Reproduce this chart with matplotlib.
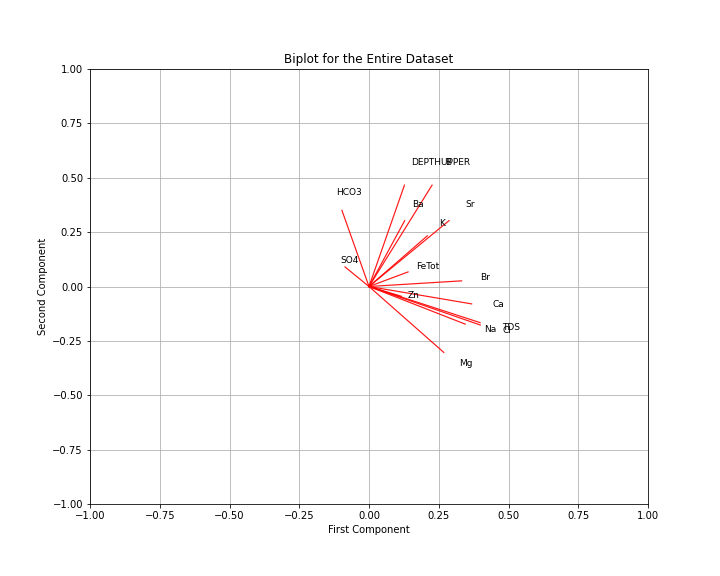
import matplotlib
matplotlib.use("Agg")
import matplotlib.pyplot as plt

labels = ["DEPTHUPPER", "B", "HCO3", "SO4", "Ba", "Sr", "K", "FeTot",
          "Br", "Zn", "Ca", "TDS", "Cl", "Na", "Mg"]
pc1 = [0.127, 0.226, -0.097, -0.086, 0.128, 0.287, 0.209, 0.140,
       0.332, 0.116, 0.368, 0.398, 0.399, 0.345, 0.268]
pc2 = [0.466, 0.466, 0.350, 0.090, 0.303, 0.303, 0.233, 0.067,
       0.026, -0.045, -0.080, -0.166, -0.177, -0.173, -0.303]
ticks = [-1.00, -0.75, -0.50, -0.25, 0.00, 0.25, 0.50, 0.75, 1.00]

fig = plt.figure(figsize=(10, 8), dpi=72)
ax = fig.add_axes([0.125, 0.125, 0.775, 0.7552])
for x, y, lab in zip(pc1, pc2, labels):
    ax.plot([0, x], [0, y], color="red", linewidth=1.2, alpha=0.9, zorder=3)
    ax.text(x * 1.2, y * 1.2, lab, fontsize=9, zorder=4)

ax.set_xlim(-1, 1)
ax.set_ylim(-1, 1)
ax.set_xticks(ticks)
ax.set_yticks(ticks)
ax.grid(True)
ax.set_axisbelow(True)
ax.set_xlabel("First Component")
ax.set_ylabel("Second Component")
ax.set_title("Biplot for the Entire Dataset")
fig.savefig("out.png", dpi=72)
